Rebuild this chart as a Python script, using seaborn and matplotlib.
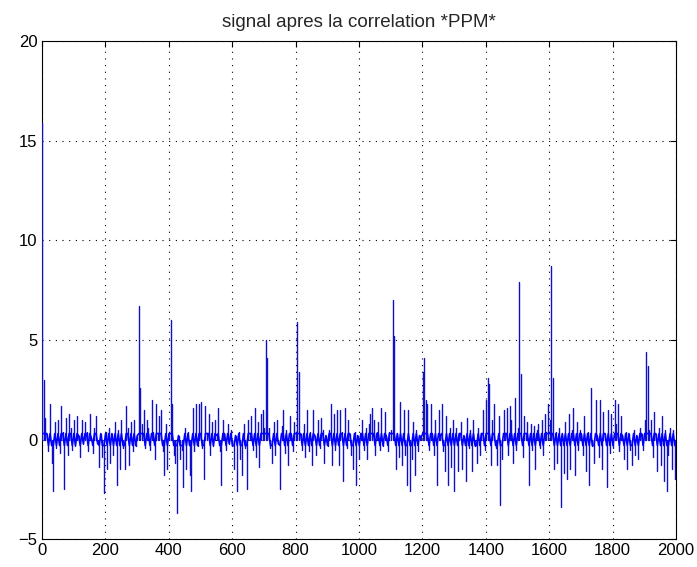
import numpy as np
import matplotlib
matplotlib.use("Agg")
import matplotlib.pyplot as plt
import pandas as pd
import seaborn as sns

# sample positions (every 5 samples) and signal values
# one row per 100 samples
sample_pos = np.arange(1, 2001, 5)

corr_0000 = [15.9, 3.0, 1.1, 0.3, -0.6, 1.8, -1.2, -2.6, 0.9, -0.4, 1.0, -0.7, 1.7, 0.4, -2.5, 1.1, -0.8, 1.3, 0.6, -0.5]
corr_0100 = [1.0, -0.3, 1.2, 0.2, -0.9, 1.0, -0.2, 0.9, 0.4, -0.6, 1.3, 0.1, -0.7, 0.6, 1.2, -0.2, -1.4, 0.3, -0.9, -2.7]
corr_0200 = [0.4, -1.5, 0.6, -1.2, 0.3, -0.8, 0.9, -2.3, 0.5, -1.5, 1.0, -0.4, -1.5, 1.7, 0.6, -1.3, 0.9, -0.6, 1.0, -0.3]
corr_0300 = [0.2, 6.7, 2.6, 0.8, 1.5, -0.4, 1.0, 0.6, -0.5, 2.0, 0.4, -1.0, 1.8, 0.3, 1.2, 1.5, -0.6, -1.8, 0.8, -1.5]
corr_0400 = [0.3, 6.0, 1.8, -0.8, -1.2, -3.7, 0.2, -1.0, -0.5, -2.4, 0.6, -1.5, 0.4, -1.8, -2.6, 1.6, -0.6, 1.8, -0.3, 1.8]
corr_0500 = [1.9, -0.4, -2.0, 1.7, 0.3, 1.3, -0.8, 0.9, -0.3, 1.0, 0.2, 1.6, -0.6, -2.3, 1.0, 0.3, -0.5, 0.8, -0.2, 0.5]
corr_0600 = [-0.3, -1.5, 0.2, -2.6, 0.4, -1.0, -1.8, 0.8, -0.4, -2.5, 1.0, 0.3, 1.2, -0.5, 1.6, -0.9, 0.9, -1.4, 1.3, 1.5]
corr_0700 = [0.6, 5.0, 4.1, 0.6, -0.4, -1.2, 0.9, -0.8, 1.0, -0.2, -2.5, 0.7, 1.5, -0.7, 0.5, -1.3, 1.2, 0.3, -0.6, 0.9]
corr_0800 = [0.4, 5.9, 3.4, 0.3, -0.5, 0.8, -0.9, 1.5, -0.6, 0.4, -1.3, 1.5, 0.2, -0.8, 1.0, -0.4, 1.1, 0.5, -1.2, 0.2]
corr_0900 = [-0.3, 0.5, 1.8, -1.3, 1.3, -0.5, 1.5, -1.3, 1.5, 0.4, -2.1, 1.6, -0.4, 1.0, 0.3, -0.8, -1.5, 0.4, -2.3, 0.2]
corr_1000 = [-1.0, 0.3, 1.0, -0.5, 0.6, -1.0, 0.8, 1.3, 1.6, 1.0, -0.8, 0.4, 0.9, -0.5, 1.6, -0.3, 1.4, 0.2, -0.6, 0.4]
corr_1100 = [0.5, 7.0, 5.2, -1.5, 0.3, -0.9, 1.9, -1.3, 1.5, -0.8, -2.3, 1.5, -2.6, -1.0, 0.9, -1.8, 0.5, -0.6, 0.2, 0.1]
corr_1200 = [3.4, 4.1, 2.0, 1.8, -0.5, 1.8, 0.3, -0.8, 1.0, -2.3, 1.5, 0.2, 1.8, -0.6, -1.6, 1.2, -2.3, 0.6, -1.4, 1.0]
corr_1300 = [-2.6, 0.6, -1.6, 0.3, 0.9, -1.5, 0.2, -2.1, 1.1, -0.4, 0.5, -1.6, 1.0, -0.3, -1.2, 0.6, -0.8, 0.3, 1.5, -0.5]
corr_1400 = [2.0, 3.1, 2.8, -1.3, 1.0, 1.8, -0.4, -1.3, 1.2, -3.3, -1.0, 1.5, 0.3, 1.6, -0.8, 1.7, 1.0, -1.2, 2.1, -0.5]
corr_1500 = [0.6, 7.9, 3.3, -0.9, 1.2, 0.3, 0.9, -2.3, 0.8, -0.5, 0.7, -1.5, 0.5, 0.8, -0.4, 1.0, -0.8, 1.3, 0.4, 1.8]
corr_1600 = [1.0, 8.7, 3.1, -1.5, 0.4, -1.2, 0.6, -3.4, 0.3, -1.7, 0.9, -2.0, 1.3, -1.5, 0.5, 1.6, -1.8, 0.9, -0.5, 0.5]
corr_1700 = [0.3, -0.8, 1.2, -1.6, 0.4, -2.3, 2.6, -0.3, -1.2, 2.0, 0.2, -0.9, 2.0, -1.5, 1.4, 0.3, -2.4, 1.5, -0.7, 1.3]
corr_1800 = [-0.4, 2.0, 0.8, 1.8, -0.6, 1.2, 0.2, -1.0, 0.4, -1.5, 0.3, -0.5, -1.3, 0.5, -0.8, 0.2, -1.0, 0.6, 0.3, -0.5]
corr_1900 = [1.0, 4.4, 3.7, 0.5, 1.0, -0.9, 1.4, 0.3, -1.6, 0.6, -1.3, 1.2, -2.1, 0.5, -2.6, -0.8, 0.6, -1.5, 0.5, -2.0]

signal = (corr_0000 + corr_0100 + corr_0200 + corr_0300 + corr_0400 +
          corr_0500 + corr_0600 + corr_0700 + corr_0800 + corr_0900 +
          corr_1000 + corr_1100 + corr_1200 + corr_1300 + corr_1400 +
          corr_1500 + corr_1600 + corr_1700 + corr_1800 + corr_1900)

x_ticks = [0, 200, 400, 600, 800, 1000, 1200, 1400, 1600, 1800, 2000]
y_ticks = [-5, 0, 5, 10, 15, 20]
title = "signal apres la correlation *PPM*"

# each sample drawn as a thin stroke from the zero line, one unit per sample
n_samples = len(signal)
df = pd.DataFrame({
    "n": np.concatenate([sample_pos, sample_pos]),
    "corr": np.concatenate([np.zeros(n_samples), signal]),
    "k": np.concatenate([np.arange(n_samples), np.arange(n_samples)]),
})

sns.set_style("white")
plt.rcParams["font.family"] = ["Liberation Sans", "DejaVu Sans"]

fig, ax = plt.subplots(figsize=(6.97, 5.67), dpi=100)
fig.subplots_adjust(left=0.060, right=0.970, top=0.928, bottom=0.049)

sns.lineplot(data=df, x="n", y="corr", units="k", ax=ax, color="#1010c8",
             linewidth=1.0, estimator=None, sort=False, zorder=3)
# zero band of the signal
sns.lineplot(x=sample_pos, y=np.clip(signal, -0.3, 0.3), ax=ax, color="#0000ff",
             linewidth=1.2, estimator=None, sort=False, zorder=3)

ax.set_xlim(0, 2000)
ax.set_ylim(-5, 20)
ax.set_xticks(x_ticks)
ax.set_yticks(y_ticks)
ax.set_xlabel("")
ax.set_ylabel("")
ax.grid(True, color="black", linestyle=(0, (1, 5)), linewidth=0.8)
ax.tick_params(direction="in", length=4, width=0.8, top=True, right=True,
               labelsize=12, colors="black", pad=3)
for s in ax.spines.values():
    s.set_color("black")
    s.set_linewidth(0.8)
ax.set_title(title, fontsize=13.5, pad=10)

fig.savefig("out.png", dpi=100)
